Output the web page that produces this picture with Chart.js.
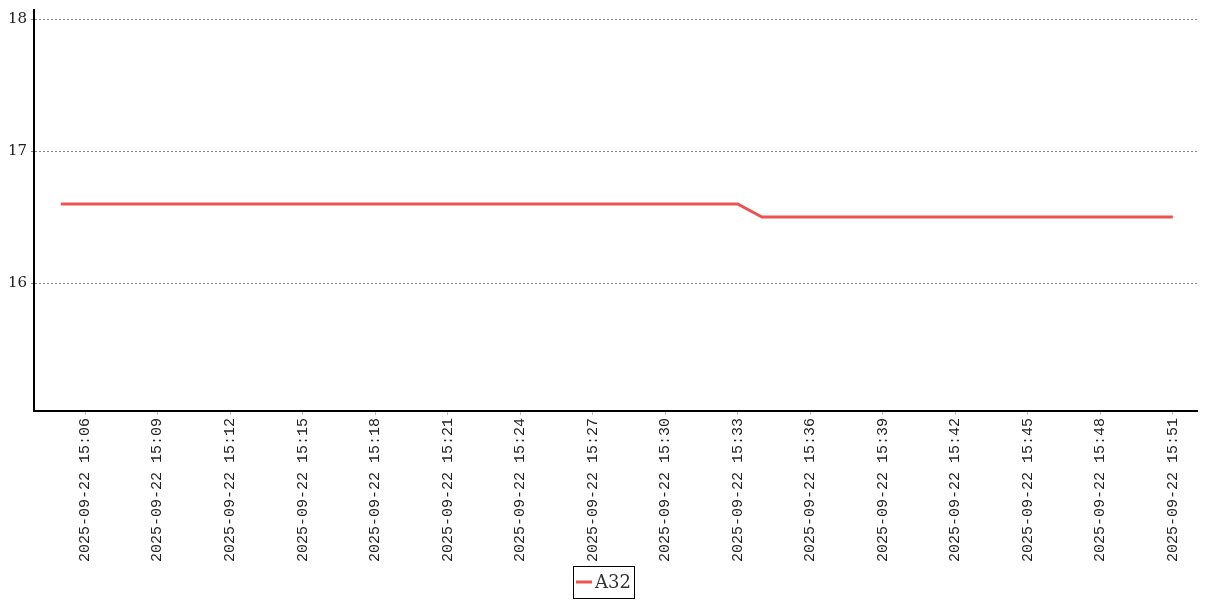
<!DOCTYPE html>
<html>
<head>
<meta charset="utf-8">
<script src="https://cdn.jsdelivr.net/npm/chart.js@4/dist/chart.umd.min.js"></script>
<style>
html,body{margin:0;padding:0;background:#fff;}
#wrap{width:1207px;height:600px;}
</style>
</head>
<body>
<div id="wrap"><canvas id="c" width="1207" height="600"></canvas></div>
<script>
const seriesName = "A32";
const times = [
 "2025-09-22 15:05","2025-09-22 15:06","2025-09-22 15:07","2025-09-22 15:08","2025-09-22 15:09",
 "2025-09-22 15:10","2025-09-22 15:11","2025-09-22 15:12","2025-09-22 15:13","2025-09-22 15:14",
 "2025-09-22 15:15","2025-09-22 15:16","2025-09-22 15:17","2025-09-22 15:18","2025-09-22 15:19",
 "2025-09-22 15:20","2025-09-22 15:21","2025-09-22 15:22","2025-09-22 15:23","2025-09-22 15:24",
 "2025-09-22 15:25","2025-09-22 15:26","2025-09-22 15:27","2025-09-22 15:28","2025-09-22 15:29",
 "2025-09-22 15:30","2025-09-22 15:31","2025-09-22 15:32","2025-09-22 15:33","2025-09-22 15:34",
 "2025-09-22 15:35","2025-09-22 15:36","2025-09-22 15:37","2025-09-22 15:38","2025-09-22 15:39",
 "2025-09-22 15:40","2025-09-22 15:41","2025-09-22 15:42","2025-09-22 15:43","2025-09-22 15:44",
 "2025-09-22 15:45","2025-09-22 15:46","2025-09-22 15:47","2025-09-22 15:48","2025-09-22 15:49",
 "2025-09-22 15:50","2025-09-22 15:51"
];
const values = [
 16.6,16.6,16.6,16.6,16.6,
 16.6,16.6,16.6,16.6,16.6,
 16.6,16.6,16.6,16.6,16.6,
 16.6,16.6,16.6,16.6,16.6,
 16.6,16.6,16.6,16.6,16.6,
 16.6,16.6,16.6,16.6,16.5,
 16.5,16.5,16.5,16.5,16.5,
 16.5,16.5,16.5,16.5,16.5,
 16.5,16.5,16.5,16.5,16.5,
 16.5,16.5
];
const xTickLabels = [
 "2025-09-22 15:06","2025-09-22 15:09","2025-09-22 15:12","2025-09-22 15:15",
 "2025-09-22 15:18","2025-09-22 15:21","2025-09-22 15:24","2025-09-22 15:27",
 "2025-09-22 15:30","2025-09-22 15:33","2025-09-22 15:36","2025-09-22 15:39",
 "2025-09-22 15:42","2025-09-22 15:45","2025-09-22 15:48","2025-09-22 15:51"
];
const xRange = ["2025-09-22 15:04","2025-09-22 15:52"];
const yTicks = [16, 17, 18];
const yRange = [15.03, 18.07];

function toMin(s){ const t = s.split(" ")[1].split(":"); return (+t[0])*60 + (+t[1]); }
const labelByMin = {};
xTickLabels.forEach(s => labelByMin[toMin(s)] = s);

const LINE_COLOR = '#ea5552';

const boxedLegend = {
  id: 'boxedLegend',
  afterDraw(chart){
    const ctx = chart.ctx;
    const ds = chart.data.datasets[0];
    ctx.save();
    ctx.font = '18px "DejaVu Serif"';
    const tw = ctx.measureText(ds.label).width;
    const lineW = 16, gap = 3, pad = 3;
    const total = pad + lineW + gap + tw + pad;
    const left = Math.round(chart.width / 2 - total / 2);
    const top = chart.height - 34;
    const h = 32;
    const cy = top + h / 2;
    ctx.strokeStyle = '#000';
    ctx.lineWidth = 1;
    ctx.strokeRect(left + 0.5, top + 0.5, Math.round(total), h);
    ctx.strokeStyle = ds.borderColor;
    ctx.lineWidth = 3;
    ctx.beginPath();
    ctx.moveTo(left + pad, cy);
    ctx.lineTo(left + pad + lineW, cy);
    ctx.stroke();
    ctx.fillStyle = '#333';
    ctx.textBaseline = 'middle';
    ctx.textAlign = 'left';
    ctx.fillText(ds.label, left + pad + lineW + gap, cy + 1);
    ctx.restore();
  }
};

new Chart(document.getElementById('c'), {
  type: 'line',
  data: {
    datasets: [{
      label: seriesName,
      data: times.map((t,i) => ({x: toMin(t), y: values[i]})),
      borderColor: LINE_COLOR,
      backgroundColor: LINE_COLOR,
      borderWidth: 3,
      pointRadius: 0,
      tension: 0,
      fill: false
    }]
  },
  options: {
    responsive: false,
    animation: false,
    layout: { padding: { top: 10, right: 10, left: 0, bottom: 34 } },
    plugins: {
      tooltip: { enabled: false },
      legend: { display: false }
    },
    scales: {
      x: {
        type: 'linear',
        min: toMin(xRange[0]) - 0.11,
        max: toMin(xRange[1]),
        afterBuildTicks(scale){ scale.ticks = xTickLabels.map(s => ({value: toMin(s)})); },
        afterFit(scale){ scale.height = 155; scale.paddingLeft = 0; scale.paddingRight = 0; },
        grid: { drawOnChartArea: false, drawTicks: true, tickLength: 4, color: '#bbb' },
        border: { display: true, color: '#000', width: 2 },
        ticks: {
          autoSkip: false,
          minRotation: 90,
          maxRotation: 90,
          padding: 3,
          color: '#222',
          font: { family: 'Liberation Mono', size: 15 },
          callback: (v) => labelByMin[v] || ''
        }
      },
      y: {
        type: 'linear',
        min: yRange[0],
        max: yRange[1],
        afterBuildTicks(scale){ scale.ticks = yTicks.map(v => ({value: v})); },
        afterFit(scale){ scale.width = 34; scale.paddingTop = 0; scale.paddingBottom = 0; },
        grid: { color: '#888', lineWidth: 1, drawTicks: true, tickLength: 3 },
        border: { display: true, color: '#000', width: 2, dash: [2, 2] },
        ticks: {
          padding: 4,
          color: '#222',
          font: { family: 'DejaVu Serif', size: 15 },
          callback: (v) => String(v)
        }
      }
    }
  },
  plugins: [boxedLegend]
});
</script>
</body>
</html>
